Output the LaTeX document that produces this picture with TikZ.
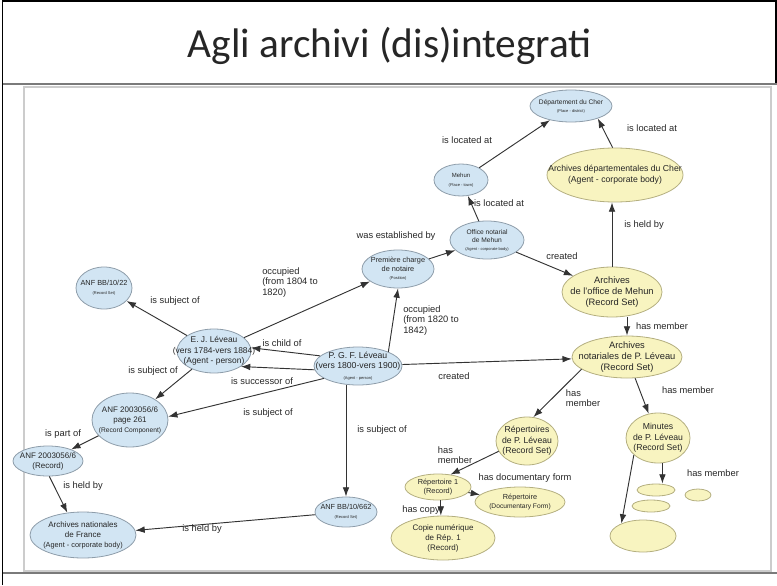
\documentclass[tikz,border=0pt]{standalone}
\usepackage{fontspec}
\setmainfont{Liberation Sans}
\newfontfamily\titlefont{Carlito}
\usetikzlibrary{shapes.geometric,arrows.meta,calc}

\definecolor{bfill}{HTML}{D2E5F3}
\definecolor{bline}{HTML}{8E9DAA}
\definecolor{yfill}{HTML}{F8F4C0}
\definecolor{yline}{HTML}{B4AF80}
\definecolor{framegray}{HTML}{CCCCCC}
\definecolor{rulegray}{HTML}{7A7A7A}

\newcommand\fs[2]{\fontsize{#1}{#2}\selectfont}

\begin{document}
\begin{tikzpicture}[x=0.75pt,y=-0.75pt,
  ent/.style={ellipse, inner sep=0pt, line width=0.6pt},
  bent/.style={ent, fill=bfill, draw=bline},
  yent/.style={ent, fill=yfill, draw=yline},
  sz/.style 2 args={minimum width=#1*0.75pt, minimum height=#2*0.75pt},
  nt/.style 2 args={align=center, inner sep=0pt, text=black!85, font=\fs{#1}{#2}},
  elab/.style={font=\fs{7}{8}, inner sep=0pt, align=left, text=black!85},
  arr/.style={draw=black!80, line width=0.7pt, -{Latex[length=7pt,width=5pt]}}]

% page size
\useasboundingbox (0,0) rectangle (777,585);

% slide frame and rules
\draw[black, line width=1.2pt] (2.5,585) -- (2.5,1) -- (776,1) -- (776,84);
\draw[rulegray, line width=1.6pt] (3,84) -- (777,84);
\draw[framegray, line width=0.8pt] (24,87) rectangle (771,571);
\draw[rulegray, line width=1.4pt] (3,573) -- (777,573);

% title
\node[font=\titlefont\fs{31}{36}, text=black!85] (title) at (390,46) {Agli archivi (dis)integrati};

% entities
\node[bent, sz={82}{32}, label={[nt={5}{6}]center:{Département du Cher\\{\fs{3}{4}(Place - district)}}}] (dep) at (571,106) {};
\node[bent, sz={54}{32}, label={[nt={4.5}{7}]center:{Mehun\\{\fs{3}{4}(Place - town)}}}] (mehun) at (461,180) {};
\node[yent, sz={136}{54}, label={[nt={6.5}{8}]center:{Archives départementales du Cher\\(Agent - corporate body)}}] (adc) at (615,175) {};
\node[bent, sz={74}{38}, label={[nt={5}{6}]center:{Office notarial\\de Mehun\\{\fs{3}{4}(Agent - corporate body)}}}] (office) at (487,240) {};
\node[bent, sz={72}{38}, label={[nt={5.5}{6.5}]center:{Première charge\\de notaire\\{\fs{3}{4}(Position)}}}] (pc) at (398,269) {};
\node[yent, sz={100}{50}, label={[nt={7}{8.2}]center:{Archives\\de l'office de Mehun\\(Record Set)}}] (aom) at (612,292) {};
\node[yent, sz={110}{42}, label={[nt={7}{8.2}]center:{Archives\\notariales de P. Léveau\\(Record Set)}}] (anp) at (627,357) {};
\node[bent, sz={88}{38}, label={[nt={6.5}{7.8}]center:{P. G. F. Léveau\\(vers 1800-vers 1900)\\{\fs{3}{4}(Agent - person)}}}] (pgf) at (358,366) {};
\node[bent, sz={74}{44}, label={[nt={6.3}{8}]center:{E. J. Léveau\\(vers 1784-vers 1884)\\(Agent - person)}}] (ej) at (214,351) {};
\node[bent, sz={56}{42}, label={[nt={5.5}{6.5}]center:{ANF BB/10/22\\{\fs{3}{4}(Record Set)}}}] (bb22) at (104,288) {};
\node[bent, sz={76}{54}, label={[nt={6}{7.5}]center:{ANF 2003056/6\\page 261\\{\fs{5}{6}(Record Component)}}}] (p261) at (130,420) {};
\node[bent, sz={70}{30}, label={[nt={6}{7.5}]center:{ANF 2003056/6\\(Record)}}] (anf) at (48,461) {};
\node[bent, sz={106}{46}, label={[nt={6}{7.5}]center:{Archives nationales\\de France\\{\fs{5.5}{7}(Agent - corporate body)}}}] (anfr) at (83,535) {};
\node[bent, sz={62}{30}, label={[nt={5.5}{6.5}]center:{ANF BB/10/662\\{\fs{3}{4}(Record Set)}}}] (bb662) at (346,512) {};
\node[yent, sz={62}{48}, label={[nt={6.5}{8}]center:{Répertoires\\de P. Léveau\\(Record Set)}}] (rep) at (527,441) {};
\node[yent, sz={64}{50}, label={[nt={6.5}{8}]center:{Minutes\\de P. Léveau\\(Record Set)}}] (min) at (658,438) {};
\node[yent, sz={66}{26}, label={[nt={5.5}{7}]center:{Répertoire 1\\(Record)}}] (r1) at (438,487) {};
\node[yent, sz={90}{30}, label={[nt={5.5}{7}]center:{Répertoire\\{\fs{5}{6}(Documentary Form)}}}] (rdf) at (520,502) {};
\node[yent, sz={104}{44}, label={[nt={6}{7.5}]center:{Copie numérique\\de Rép. 1\\(Record)}}] (copy) at (443,538) {};
\node[yent, sz={38}{12}] (s1) at (656,490) {};
\node[yent, sz={26}{12}] (s2) at (698,495) {};
\node[yent, sz={38}{12}] (s3) at (651,506) {};
\node[yent, sz={66}{32}] (big) at (643,536) {};

% relations
\draw[arr] (mehun) -- (dep);
\draw[arr] (adc.95) -- (dep.-25);
\draw[arr] (office) -- (mehun);
\draw[arr] (pc) -- (office);
\draw[arr] (office) -- (aom);
\draw[arr] (aom.north) -- (aom.north |- adc.south);
\draw[arr] (aom.south -| anp.north) -- (anp.north);
\draw[arr] (pgf) -- (anp);
\draw[arr] (anp.-165) -- (rep.75);
\draw[arr] (anp) -- (min);
\draw[arr] (rep.-160) -- (r1.45);
\draw[arr] (r1) -- (rdf);
\draw[arr] (r1.-78) -- (r1.-78 |- copy.north);
\draw[arr] (min.-80) -- (min.-80 |- s1.north);
\draw[arr] (min.-145) -- (big.150);
\draw[arr] (ej) -- (bb22);
\draw[arr] (ej) -- (pc);
\draw[arr] (pgf.25) -- (pc.south);
\draw[arr] (pgf.165) -- (ej.5);
\draw[arr] (pgf.185) -- (ej.-30);
\draw[arr] (pgf.200) -- (p261.5);
\draw[arr] (ej) -- (p261);
\draw[arr] (p261) -- (anf);
\draw[arr] (anf.-85) -- (anfr.125);
\draw[arr] (bb662) -- (anfr);
\draw[arr] (pgf.south -| bb662.north) -- (bb662.north);

% relation labels
\node[elab] (l1) at (467,140) {is located at};
\node[elab] (l2) at (652,128) {is located at};
\node[elab] (l3) at (499,203) {is located at};
\node[elab] (l4) at (396,236) {was established by};
\node[elab] (l5) at (562,256) {created};
\node[elab] (l6) at (644,225) {is held by};
\node[elab] (l7) at (662,326) {has member};
\node[elab] (l8) at (454,376) {created};
\node[elab] (l9) at (583,398) {has\\member};
\node[elab] (l10) at (688,390) {has member};
\node[elab] (l11) at (455,455) {has\\member};
\node[elab] (l12) at (525,478) {has documentary form};
\node[elab] (l13) at (421,510) {has copy};
\node[elab] (l14) at (713,473) {has member};
\node[elab] (l15) at (175,301) {is subject of};
\node[elab, anchor=north west] (l16) at (262,267) {occupied\\(from 1804 to\\1820)};
\node[elab, anchor=north west] (l17) at (403,305) {occupied\\(from 1820 to\\1842)};
\node[elab] (l18) at (282,343) {is child of};
\node[elab] (l19) at (262,381) {is successor of};
\node[elab] (l20) at (268,413) {is subject of};
\node[elab] (l21) at (153,371) {is subject of};
\node[elab] (l22) at (63,434) {is part of};
\node[elab] (l23) at (83,486) {is held by};
\node[elab] (l24) at (202,529) {is held by};
\node[elab] (l25) at (382,430) {is subject of};
\end{tikzpicture}
\end{document}
